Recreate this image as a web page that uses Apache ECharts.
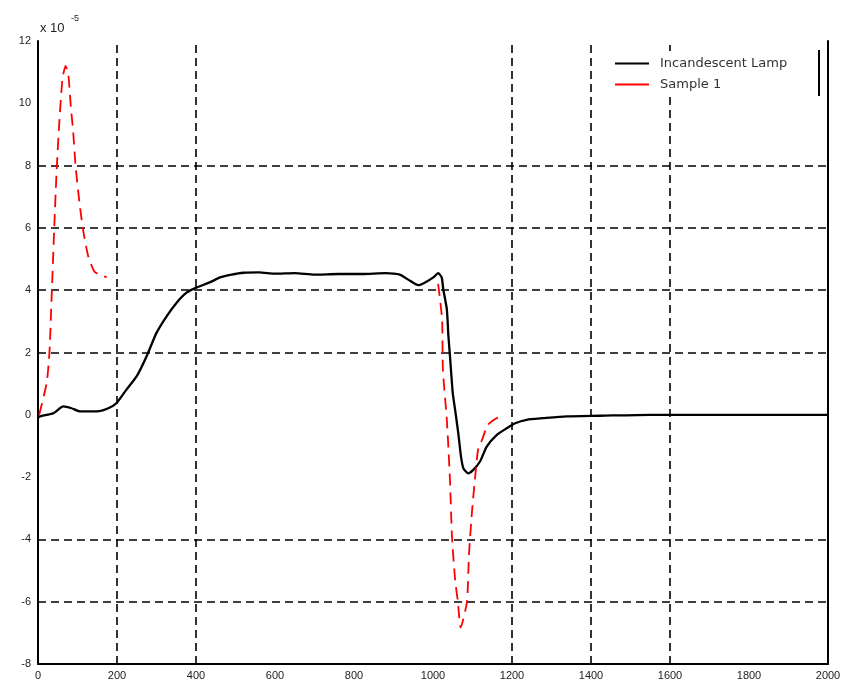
<!DOCTYPE html>
<html>
<head>
<meta charset="utf-8">
<script src="https://cdn.jsdelivr.net/npm/echarts@6/dist/echarts.min.js"></script>
<style>
  html, body { margin: 0; padding: 0; background: #fff; }
  #main { width: 847px; height: 687px; }
</style>
</head>
<body>
<div id="main"></div>
<script>
var myChart = echarts.init(document.getElementById('main'));

// values in units of 1e-5
var lampX = [0, 5, 39, 64, 85, 106, 149, 178, 199, 224, 250, 275, 300, 326, 351, 376, 402, 435, 461, 490,
  520, 560, 600, 650, 700, 760, 820, 880, 916, 942, 963, 980, 1001, 1013, 1022, 1026, 1035, 1039, 1043, 1050,
  1056, 1064, 1071, 1077, 1089, 1102, 1119, 1136, 1161, 1187, 1208, 1237, 1279, 1338, 1423, 1549, 2000];
var lampY = [-0.1, -0.05, 0.05, 0.27, 0.21, 0.11, 0.11, 0.21, 0.38, 0.81, 1.24, 1.88, 2.63, 3.17, 3.6, 3.92, 4.09, 4.25, 4.41, 4.5,
  4.56, 4.57, 4.53, 4.55, 4.5, 4.52, 4.52, 4.55, 4.5, 4.3, 4.16, 4.25, 4.41, 4.55, 4.41, 4.03, 3.39, 2.53, 1.88, 0.7,
  0.16, -0.59, -1.35, -1.72, -1.88, -1.77, -1.5, -1.02, -0.65, -0.43, -0.27, -0.16, -0.11, -0.05, -0.03, 0, 0];

// sample 1 comes in two pieces, '-' marks the gap
var sampleX = [3, 22, 29, 35, 41, 47, 54, 62, 70, 77, 83, 89, 95, 106, 115, 127, 144, 174, 600,
  1013, 1023, 1025, 1035, 1043, 1048, 1056, 1063, 1070, 1086, 1091, 1099, 1106, 1114, 1124, 1139, 1162, 1175];
var sampleY = [0, 1.03, 2.0, 3.94, 5.97, 7.8, 9.4, 10.8, 11.2, 10.9, 9.9, 9.1, 8.0, 6.7, 5.87, 5.1, 4.58, 4.42, '-',
  4.2, 3.06, 1.45, -0.16, -2.1, -3.9, -5.3, -6.0, -6.83, -6.0, -4.5, -3.06, -2.1, -1.13, -0.81, -0.32, -0.1, -0.06];

var xTicks = ['0', '200', '400', '600', '800', '1000', '1200', '1400', '1600', '1800', '2000'];
// grid lines that survive in the figure
var gridX = [200, 400, 1200, 1400, 1600];
var gridY = [8, 6, 4, 2, -4, -6];

function pairs(xs, ys) {
  return xs.map(function (x, i) { return [x, ys[i]]; });
}

var gridLine = { type: [8, 5], color: '#000', width: 1.6 };
var gridMarks = gridX.map(function (v) { return { xAxis: v }; })
  .concat(gridY.map(function (v) { return { yAxis: v }; }));

var option = {
  animation: false,
  textStyle: { fontFamily: 'Liberation Sans' },
  grid: { left: 38, right: 19, top: 41, bottom: 23 },
  legend: {
    orient: 'vertical',
    left: 605,
    top: 51,
    padding: [5, 30, 5, 10],
    backgroundColor: '#fff',
    icon: 'rect',
    itemWidth: 34,
    itemHeight: 2,
    itemGap: 6,
    textStyle: { fontFamily: 'DejaVu Sans', fontSize: 13, lineHeight: 15, color: '#333', padding: [0, 0, 0, 6] },
    data: ['Incandescent Lamp', 'Sample 1']
  },
  graphic: [
    { type: 'text', left: 40, top: 22, style: { text: 'x 10', fontSize: 13, fill: '#222', fontFamily: 'Liberation Sans' } },
    { type: 'text', left: 71, top: 14, style: { text: '-5', fontSize: 9, fill: '#222', fontFamily: 'Liberation Sans' } },
    { type: 'line', z: 10, shape: { x1: 819, y1: 50, x2: 819, y2: 96 }, style: { stroke: '#000', lineWidth: 2 } }
  ],
  xAxis: {
    type: 'value',
    min: 0,
    max: 2000,
    interval: 200,
    axisLine: { show: true, onZero: false, lineStyle: { color: '#000', width: 2 } },
    axisTick: { show: false },
    splitLine: { show: false },
    axisLabel: {
      margin: 6,
      fontSize: 11,
      color: '#222',
      formatter: function (v) { return xTicks[Math.round(v / 200)]; }
    }
  },
  yAxis: [{
    type: 'value',
    min: -8,
    max: 12,
    interval: 2,
    axisLine: { show: true, onZero: false, lineStyle: { color: '#000', width: 2 } },
    axisTick: { show: false },
    splitLine: { show: false },
    axisLabel: { margin: 7, fontSize: 11, color: '#222' }
  }, {
    type: 'value',
    position: 'right',
    min: -8,
    max: 12,
    interval: 2,
    axisLine: { show: true, onZero: false, lineStyle: { color: '#000', width: 2 } },
    axisTick: { show: false },
    splitLine: { show: false },
    axisLabel: { show: false }
  }],
  series: [{
    name: 'Incandescent Lamp',
    type: 'line',
    data: pairs(lampX, lampY),
    showSymbol: false,
    symbol: 'none',
    smooth: 0.2,
    z: 3,
    lineStyle: { color: '#000', width: 2.3 },
    itemStyle: { color: '#000' },
    markLine: {
      silent: true,
      z: 1,
      symbol: 'none',
      label: { show: false },
      lineStyle: gridLine,
      data: gridMarks
    }
  }, {
    name: 'Sample 1',
    type: 'line',
    data: pairs(sampleX, sampleY),
    showSymbol: false,
    symbol: 'none',
    smooth: 0.2,
    z: 3,
    connectNulls: false,
    lineStyle: { color: '#ff0000', width: 1.8, type: [12, 7] },
    itemStyle: { color: '#ff0000' }
  }]
};
myChart.setOption(option);
</script>
</body>
</html>
